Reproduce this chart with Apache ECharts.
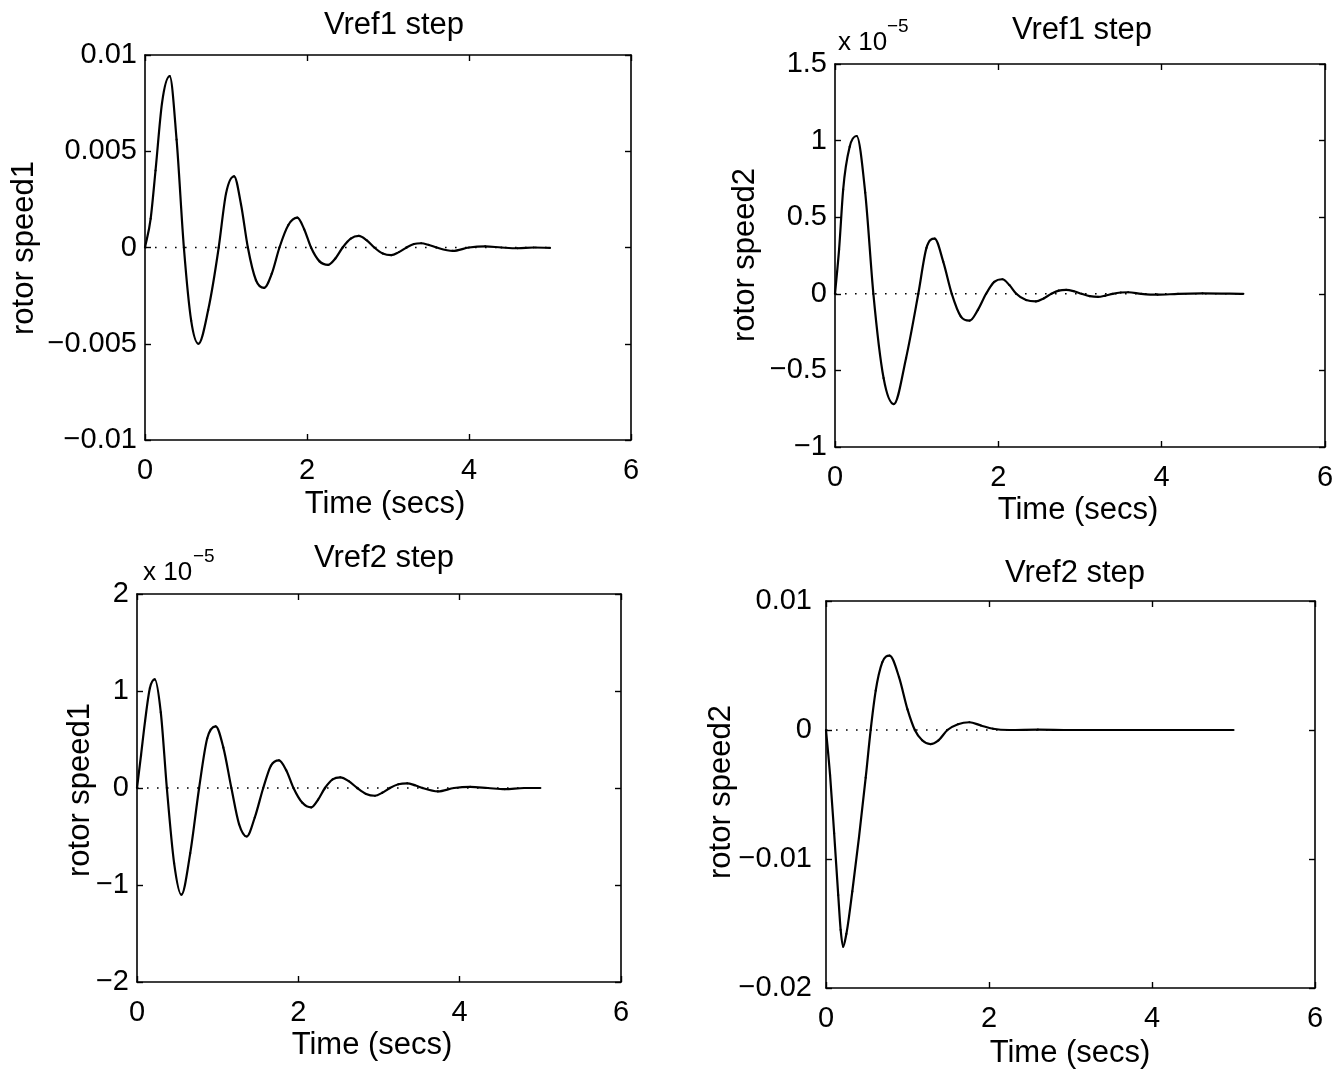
<!DOCTYPE html>
<html>
<head>
<meta charset="utf-8">
<script src="https://cdn.jsdelivr.net/npm/echarts@6/dist/echarts.min.js"></script>
<style>
html,body{margin:0;padding:0;background:#fff;}
#c{width:1341px;height:1076px;}
</style>
</head>
<body>
<div id="c"></div>
<script>
// ---- data ----
// Plot 1: Vref1 step, rotor speed1
const p1Time  = [0, 0.07, 0.13, 0.21, 0.305, 0.39, 0.48, 0.57, 0.66, 0.78, 0.91, 1.00, 1.10, 1.185, 1.27, 1.37, 1.47, 1.565, 1.66, 1.77, 1.88, 1.965, 2.05, 2.155, 2.26, 2.35, 2.44, 2.54, 2.64, 2.735, 2.83, 2.935, 3.04, 3.135, 3.23, 3.32, 3.41, 3.505, 3.60, 3.80, 4.00, 4.20, 4.40, 4.60, 4.80, 5.00];
const p1Speed = [0, 0.0015, 0.0040, 0.0075, 0.0089, 0.0056, 0, -0.0038, -0.0050, -0.00325, 0, 0.0028, 0.0037, 0.00225, 0, -0.0017, -0.0021, -0.00136, 0, 0.00117, 0.00155, 0.00095, 0, -0.00072, -0.0009, -0.00057, 0, 0.00046, 0.0006, 0.00038, 0, -0.00031, -0.0004, -0.00024, 0, 0.00018, 0.00022, 0.00013, 0, -0.00018, 0, 0.00006, 0, -0.00004, 0, -0.00002];
// Plot 2: Vref1 step, rotor speed2 (x 10^-5)
const p2Time  = [0, 0.05, 0.10, 0.18, 0.265, 0.37, 0.47, 0.595, 0.72, 0.87, 1.02, 1.12, 1.22, 1.325, 1.43, 1.54, 1.65, 1.75, 1.85, 1.95, 2.05, 2.135, 2.22, 2.34, 2.46, 2.555, 2.65, 2.74, 2.83, 2.925, 3.02, 3.12, 3.22, 3.31, 3.40, 3.50, 3.59, 3.75, 3.95, 4.20, 4.50, 5.00];
const p2Speed = [0, 0.29, 0.68, 0.96, 1.03, 0.66, 0, -0.55, -0.72, -0.42, 0, 0.30, 0.36, 0.21, 0, -0.147, -0.175, -0.105, 0, 0.0775, 0.095, 0.057, 0, -0.041, -0.05, -0.030, 0, 0.021, 0.026, 0.017, 0, -0.015, -0.02, -0.012, 0, 0.0083, 0.01, 0, -0.006, 0, 0.003, 0];
// Plot 3: Vref2 step, rotor speed1 (x 10^-5)
const p3Time  = [0, 0.05, 0.10, 0.16, 0.22, 0.295, 0.37, 0.46, 0.55, 0.66, 0.77, 0.87, 0.975, 1.07, 1.17, 1.265, 1.36, 1.46, 1.565, 1.66, 1.76, 1.85, 1.94, 2.05, 2.16, 2.245, 2.33, 2.425, 2.52, 2.625, 2.73, 2.84, 2.95, 3.04, 3.135, 3.24, 3.35, 3.445, 3.54, 3.73, 3.93, 4.13, 4.35, 4.56, 4.80, 5.00];
const p3Speed = [0, 0.34, 0.69, 1.03, 1.12, 0.78, 0, -0.774, -1.10, -0.671, 0, 0.51, 0.636, 0.419, 0, -0.372, -0.50, -0.304, 0, 0.23, 0.285, 0.183, 0, -0.153, -0.20, -0.12, 0, 0.089, 0.11, 0.071, 0, -0.061, -0.08, -0.049, 0, 0.038, 0.048, 0.028, 0, -0.035, 0, 0.012, 0, -0.012, 0, 0];
// Plot 4: Vref2 step, rotor speed2
const p4Time  = [0, 0.05, 0.10, 0.15, 0.18, 0.21, 0.25, 0.323, 0.405, 0.487, 0.548, 0.61, 0.69, 0.78, 0.896, 1.00, 1.09, 1.18, 1.28, 1.38, 1.49, 1.62, 1.76, 1.90, 2.05, 2.25, 2.60, 3.00, 3.50, 4.00, 4.50, 5.00];
const p4Speed = [0, -0.0035, -0.0080, -0.0128, -0.0155, -0.0168, -0.0158, -0.0125, -0.0083, -0.0037, 0, 0.00305, 0.00524, 0.00576, 0.0041, 0.0016, 0, -0.0008, -0.00109, -0.0008, 0, 0.00045, 0.0006, 0.00035, 0.0001, 0, 0.00003, 0, 0, 0, 0, 0];

const titles  = ['Vref1 step', 'Vref1 step', 'Vref2 step', 'Vref2 step'];
const yNames  = ['rotor speed1', 'rotor speed2', 'rotor speed1', 'rotor speed2'];
const xName   = 'Time (secs)';
const xTicks  = {min: 0, max: 6, interval: 2};
const yRanges = [
  {min: -0.01, max: 0.01, interval: 0.005},
  {min: -1, max: 1.5, interval: 0.5},
  {min: -2, max: 2, interval: 1},
  {min: -0.02, max: 0.01, interval: 0.01}
];
const zeroLineEnd = 5;

// ---- layout ----
const FONT = "'Liberation Sans', Arial, Helvetica, sans-serif";
const grids = [
  {left: 145, top: 55,  width: 486, height: 385},
  {left: 835, top: 64,  width: 490, height: 383},
  {left: 137, top: 594, width: 484, height: 388},
  {left: 826, top: 601, width: 489, height: 387}
];
const yLabelMargin = [8, 8, 8, 14];
const titlePos = [[394, 25], [1082, 30], [384, 558], [1075, 573]];
const xNamePos = [[385, 504], [1078, 510], [372, 1045], [1070, 1053]];
const yNamePos = [[24, 248], [745, 255], [80, 790], [721, 792]];

const series = [[p1Time, p1Speed], [p2Time, p2Speed], [p3Time, p3Speed], [p4Time, p4Speed]];

function fmt(v) {
  const s = String(+v.toFixed(6));
  return s.replace('-', '\u2212');
}

// tangents for a smooth cubic Hermite curve through the read points
function tangents(t, v) {
  const n = t.length, d = [], m = new Array(n);
  for (let k = 0; k < n - 1; k++) d.push((v[k + 1] - v[k]) / (t[k + 1] - t[k]));
  m[0] = d[0]; m[n - 1] = d[n - 2];
  for (let k = 1; k < n - 1; k++) {
    if (d[k - 1] * d[k] <= 0) { m[k] = 0; continue; }
    const h0 = t[k] - t[k - 1], h1 = t[k + 1] - t[k];
    m[k] = (d[k - 1] * h1 + d[k] * h0) / (h0 + h1);
  }
  return m;
}

const lineCol = '#000';
const xAxes = [], yAxes = [], sers = [], graphics = [];
grids.forEach((g, i) => {
  const tick = {show: true, inside: true, length: 6, lineStyle: {color: lineCol, width: 1.4}};
  const axLine = {show: true, onZero: false, lineStyle: {color: lineCol, width: 1.6}};
  xAxes.push({gridIndex: i, type: 'value', position: 'bottom', min: xTicks.min, max: xTicks.max, interval: xTicks.interval,
    axisLine: axLine, axisTick: tick, splitLine: {show: false},
    axisLabel: {color: '#000', fontSize: 29, fontFamily: FONT, margin: 16, formatter: fmt}});
  xAxes.push({gridIndex: i, type: 'value', position: 'top', min: xTicks.min, max: xTicks.max, interval: xTicks.interval,
    axisLine: axLine, axisTick: tick, splitLine: {show: false}, axisLabel: {show: false}});
  const r = yRanges[i];
  yAxes.push({gridIndex: i, type: 'value', position: 'left', min: r.min, max: r.max, interval: r.interval,
    axisLine: axLine, axisTick: tick, splitLine: {show: false},
    axisLabel: {color: '#000', fontSize: 29, fontFamily: FONT, margin: yLabelMargin[i], formatter: fmt}});
  yAxes.push({gridIndex: i, type: 'value', position: 'right', min: r.min, max: r.max, interval: r.interval,
    axisLine: axLine, axisTick: tick, splitLine: {show: false}, axisLabel: {show: false}});

  sers.push({type: 'line', xAxisIndex: 2 * i, yAxisIndex: 2 * i, data: [[0, 0], [zeroLineEnd, 0]],
    symbol: 'none', silent: true, z: 1,
    lineStyle: {color: lineCol, width: 1.6, type: [1.6, 8.4]}});

  const [t, v] = series[i];
  const m = tangents(t, v);
  const pts = t.map((x, k) => [x, v[k], m[k]]);
  sers.push({
    type: 'custom', xAxisIndex: 2 * i, yAxisIndex: 2 * i, z: 3, silent: true,
    encode: {x: 0, y: 1},
    data: pts,
    renderItem: function (params, api) {
      const k = params.dataIndex;
      if (k >= pts.length - 1) return null;
      const a = pts[k], b = pts[k + 1];
      const h = b[0] - a[0];
      const p0 = api.coord([a[0], a[1]]);
      const p3 = api.coord([b[0], b[1]]);
      const c1 = api.coord([a[0] + h / 3, a[1] + a[2] * h / 3]);
      const c2 = api.coord([b[0] - h / 3, b[1] - b[2] * h / 3]);
      return {
        type: 'bezierCurve',
        shape: {x1: p0[0], y1: p0[1], x2: p3[0], y2: p3[1], cpx1: c1[0], cpy1: c1[1], cpx2: c2[0], cpy2: c2[1]},
        style: {stroke: lineCol, lineWidth: 2.2, fill: null, lineCap: 'round'}
      };
    }
  });

  graphics.push({type: 'text', x: titlePos[i][0], y: titlePos[i][1],
    style: {text: titles[i], fill: '#000', font: '31px ' + FONT, textAlign: 'center', textVerticalAlign: 'middle'}});
  graphics.push({type: 'text', x: xNamePos[i][0], y: xNamePos[i][1],
    style: {text: xName, fill: '#000', font: '31px ' + FONT, textAlign: 'center', textVerticalAlign: 'middle'}});
  graphics.push({type: 'text', x: yNamePos[i][0], y: yNamePos[i][1], rotation: Math.PI / 2,
    style: {text: yNames[i], fill: '#000', font: '31px ' + FONT, textAlign: 'center', textVerticalAlign: 'middle'}});
});

// exponent markers
const expPos = [[838, 43, 887, 27], [143, 573, 193, 557]];
expPos.forEach(p => {
  graphics.push({type: 'text', x: p[0], y: p[1],
    style: {text: 'x 10', fill: '#000', font: '26px ' + FONT, textAlign: 'left', textVerticalAlign: 'middle'}});
  graphics.push({type: 'text', x: p[2], y: p[3],
    style: {text: '\u22125', fill: '#000', font: '19px ' + FONT, textAlign: 'left', textVerticalAlign: 'middle'}});
});

const chart = echarts.init(document.getElementById('c'), null, {renderer: 'canvas'});
chart.setOption({
  animation: false,
  backgroundColor: '#fff',
  grid: grids.map(g => Object.assign({containLabel: false}, g)),
  xAxis: xAxes,
  yAxis: yAxes,
  series: sers,
  graphic: graphics
});
</script>
</body>
</html>
